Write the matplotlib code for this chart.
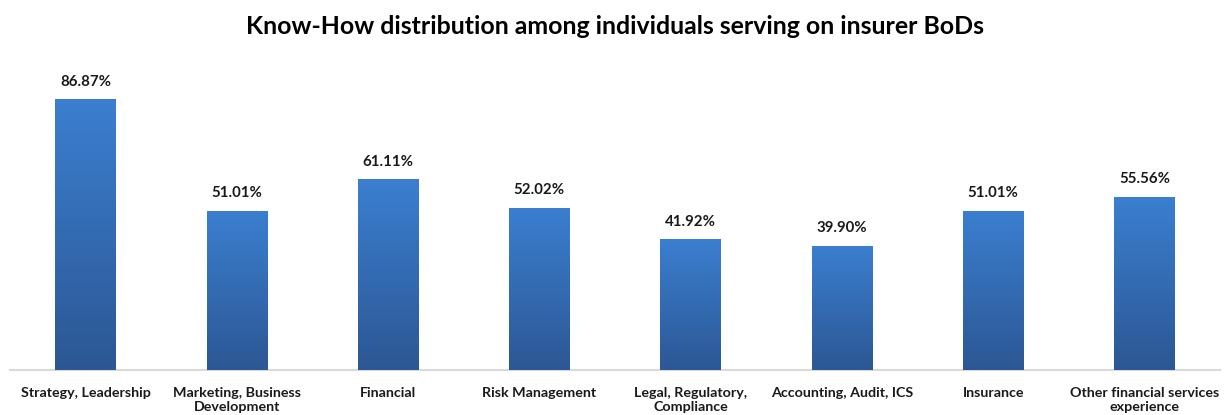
import numpy as np
import matplotlib
matplotlib.use("Agg")
import matplotlib.pyplot as plt
from matplotlib.colors import LinearSegmentedColormap

categories = [
    "Strategy, Leadership",
    "Marketing, Business\nDevelopment",
    "Financial",
    "Risk Management",
    "Legal, Regulatory,\nCompliance",
    "Accounting, Audit, ICS",
    "Insurance",
    "Other financial services\nexperience",
]
values = [86.87, 51.01, 61.11, 52.02, 41.92, 39.90, 51.01, 55.56]
value_labels = ["86.87%", "51.01%", "61.11%", "52.02%", "41.92%", "39.90%", "51.01%", "55.56%"]

plt.rcParams["font.family"] = ["Lato", "DejaVu Sans"]

fig = plt.figure(figsize=(12.29, 4.15), dpi=100)
ax = fig.add_axes([10 / 1229, 45 / 415, 1210 / 1229, 312 / 415])

x = np.arange(len(categories))
bars = ax.bar(x, values, width=0.40, color="#3670b8", linewidth=0, zorder=2)

# vertical gradient fill, lighter at the top
grad_cmap = LinearSegmentedColormap.from_list("bar_grad", ["#2c5794", "#3b7fd0"])
grad = np.linspace(0, 1, 256).reshape(-1, 1)
for b in bars:
    x0, w, h = b.get_x(), b.get_width(), b.get_height()
    im = ax.imshow(grad, cmap=grad_cmap, aspect="auto", origin="lower",
                   extent=[x0, x0 + w, 0, h], zorder=3)
    im.set_clip_path(b)

for xi, v, lab in zip(x, values, value_labels):
    ax.annotate(lab, (xi, v), xytext=(0, 7.5), textcoords="offset points",
                ha="center", va="bottom", fontsize=10.8, fontweight="bold", color="#1a1a1a")

ax.set_xlim(-0.5, len(categories) - 0.5)
ax.set_ylim(0, 100)
ax.set_yticks([])
ax.set_xticks(x)
ax.set_xticklabels(categories, fontsize=10.3, fontweight="bold", color="#1a1a1a",
                   linespacing=1.2)
ax.tick_params(axis="x", length=0, pad=12)
for s in ["top", "left", "right"]:
    ax.spines[s].set_visible(False)
ax.spines["bottom"].set_color("#d9d9d9")
ax.spines["bottom"].set_linewidth(1.5)

fig.text(0.5, 1 - 27 / 415, "Know-How distribution among individuals serving on insurer BoDs",
         ha="center", va="center", fontsize=17.9, fontweight="bold", color="#000000")

fig.savefig("out.png", dpi=100, facecolor="white")
